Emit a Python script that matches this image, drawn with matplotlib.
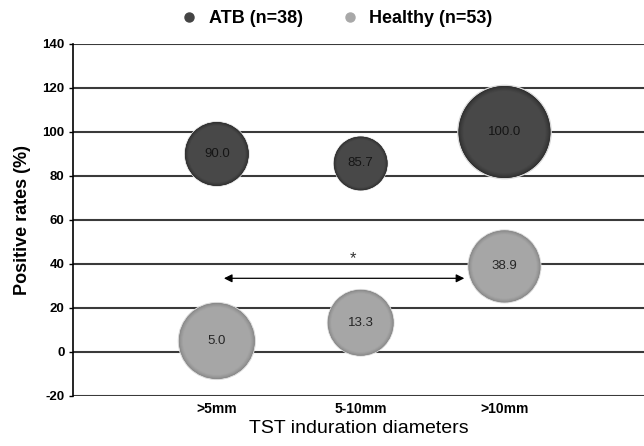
import numpy as np
import matplotlib
matplotlib.use("Agg")
import matplotlib.pyplot as plt
from matplotlib.lines import Line2D
from matplotlib.colors import to_rgb

categories = [">5mm", "5-10mm", ">10mm"]
atb_rates = [90.0, 85.7, 100.0]
healthy_rates = [5.0, 13.3, 38.9]
# relative bubble sizes (area)
atb_bubble = [48, 34, 100]
healthy_bubble = [68, 51, 61]
legend_labels = ["ATB (n=38)", "Healthy (n=53)"]

plt.rcParams["font.family"] = ["Liberation Sans", "DejaVu Sans"]
plt.rcParams["axes.unicode_minus"] = False

fig = plt.figure(figsize=(6.44, 4.46), dpi=100)
ax = fig.add_axes([73 / 644, 1 - 396 / 446, 1 - 73 / 644, (396 - 44) / 446])

x = np.arange(1, len(categories) + 1)
scale = 43.85


def bubbles(xs, ys, sizes, base, edge):
    base = np.array(to_rgb(base))
    edge = np.array(to_rgb(edge))
    s = np.array(sizes) * scale
    # soft shadow
    ax.scatter(xs, ys, s=s * 1.06, color="#d8d8d8", zorder=3, linewidths=0)
    n = 12
    for i in range(n):
        t = i / (n - 1)
        c = edge * (1 - t) + base * t
        ax.scatter(xs, ys, s=s * (1 - 0.2 * t ** 1.5), color=c, zorder=4 + i * 0.01, linewidths=0)


bubbles(x, atb_rates, atb_bubble, "#484848", "#2c2c2c")
bubbles(x, healthy_rates, healthy_bubble, "#a6a6a6", "#858585")

for xi, v in zip(x, atb_rates):
    ax.text(xi, v, f"{v:.1f}", ha="center", va="center", fontsize=9.5, color="#151515", zorder=6)
for xi, v in zip(x, healthy_rates):
    ax.text(xi, v, f"{v:.1f}", ha="center", va="center", fontsize=9.5, color="#252525", zorder=6)

# significance arrow
ax.annotate("", xy=(1.03, 33.5), xytext=(2.74, 33.5),
            arrowprops=dict(arrowstyle="<|-|>", color="black", lw=0.9, mutation_scale=12), zorder=5)
ax.text(1.95, 42.5, "*", ha="center", va="center", fontsize=12, color="#333333")

ax.set_ylim(-20, 140)
ax.set_xlim(0, 3.97)
ax.set_yticks(np.arange(-20, 141, 20))
for yv in np.arange(-20, 141, 20):
    ax.axhline(yv, color="#3a3a3a", lw=1.5, zorder=1)
ax.set_xticks(x)
ax.set_xticklabels(categories, fontsize=10, fontweight="bold")
ax.tick_params(axis="x", length=0, pad=4)
ax.tick_params(axis="y", labelsize=9.5, length=3, width=1, pad=3)
for lab in ax.get_yticklabels():
    lab.set_fontweight("bold")
ax.spines["top"].set_visible(False)
ax.spines["right"].set_visible(False)
ax.spines["bottom"].set_visible(False)
ax.spines["left"].set_color("black")
ax.spines["left"].set_linewidth(1.2)

ax.set_ylabel("Positive rates (%)", fontsize=13, fontweight="bold", labelpad=8)
ax.set_xlabel("TST induration diameters", fontsize=14, labelpad=3)

handles = [
    Line2D([], [], marker="o", ls="", color="#444444", markersize=6.5),
    Line2D([], [], marker="o", ls="", color="#a8a8a8", markersize=6.5),
]
leg = fig.legend(handles, legend_labels, loc="center", bbox_to_anchor=(0.515, 0.958), ncol=2,
                 frameon=False, handletextpad=0.1, columnspacing=1.6, prop={"size": 13, "weight": "bold"})

fig.savefig("out.png", dpi=100)
